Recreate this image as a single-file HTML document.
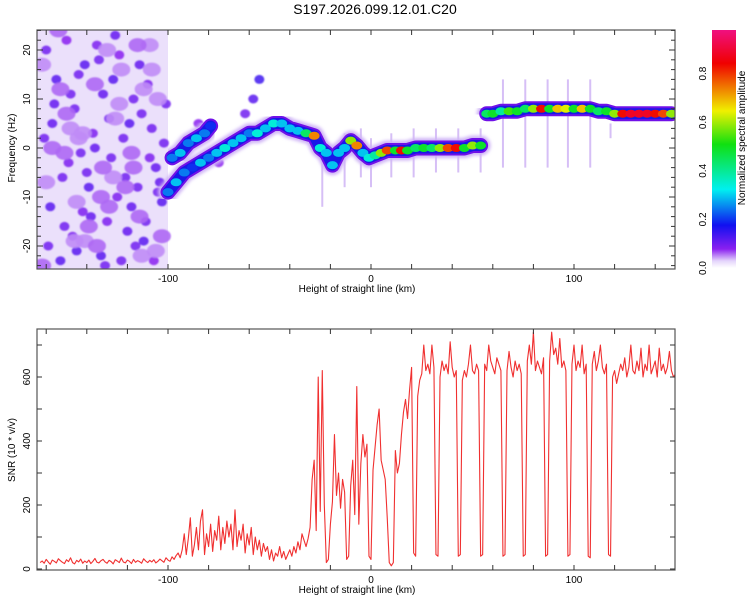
<!DOCTYPE html>
<html><head><meta charset="utf-8">
<style>
body{margin:0;background:#fff;}
svg text{font-family:"Liberation Sans",sans-serif;fill:#000;}
</style></head>
<body>
<svg id="chart" width="750" height="600" viewBox="0 0 750 600">
<defs>
<linearGradient id="cmap" x1="0" y1="1" x2="0" y2="0">
<stop offset="0" stop-color="#ffffff"/>
<stop offset="0.03" stop-color="#e4d4fb"/>
<stop offset="0.08" stop-color="#8a20f0"/>
<stop offset="0.18" stop-color="#1010f0"/>
<stop offset="0.33" stop-color="#00f0f0"/>
<stop offset="0.52" stop-color="#10e010"/>
<stop offset="0.66" stop-color="#f0f000"/>
<stop offset="0.86" stop-color="#f00000"/>
<stop offset="1" stop-color="#f01080"/>
</linearGradient>
<filter id="blur1"><feGaussianBlur stdDeviation="1.5"/></filter>
<filter id="blur2"><feGaussianBlur stdDeviation="0.8"/></filter>
<clipPath id="clipTop"><rect x="37" y="30" width="638" height="239"/></clipPath>
<clipPath id="clipBot"><rect x="37" y="329" width="638" height="241"/></clipPath>
</defs>
<text x="375" y="14" font-size="14" text-anchor="middle">S197.2026.099.12.01.C20</text>
<g id="topPanel"></g>
<g id="botPanel"></g>
<g id="cbar"></g>
</svg>
<script>
// ---- data ----
const xTickLabels = [-100, 0, 100];
const fTickLabels = [-20, -10, 0, 10, 20];
const snrTickLabels = [0, 200, 400, 600];
const cbarTickLabels = [0.0, 0.2, 0.4, 0.6, 0.8];

const ridgeAX = [-100,-96,-92,-88,-84,-80,-76,-72,-68,-64,-60,-56,-52,-48,-44,-40,-36,-32,-28,-25,-22,-19,-16,-13,-10,-7,-4,-1,2,5,8,12,15,18,22,26,30,34,38,42,46,50,54];
const ridgeAF = [-9,-7,-5,-4,-3,-2,-1,0,1,2,3,3,4,5,5,4,3.5,3,2.5,0,-1,-3.5,-1,0,1.5,0.5,-1,-2,-1.5,-1,-0.5,-0.5,-0.5,-0.5,0,0,0,0,0,0,0,0.5,0.5];
const ridgeAA = [0.25,0.3,0.25,0.2,0.3,0.25,0.3,0.35,0.3,0.3,0.25,0.35,0.3,0.35,0.3,0.3,0.3,0.45,0.75,0.35,0.3,0.3,0.3,0.3,0.6,0.75,0.3,0.35,0.4,0.6,0.8,0.5,0.85,0.5,0.45,0.5,0.45,0.6,0.8,0.85,0.5,0.6,0.5];
const ridgeBX = [-98,-94,-90,-86,-82,-79];
const ridgeBF = [-2,-1,1,2,3,4.5];
const ridgeBA = [0.25,0.3,0.25,0.3,0.25,0.2];
const ridgeCX = [57,60,64,68,72,76,80,84,88,92,96,100,104,108,112,116,120,124,128,132,136,140,144,148];
const ridgeCF = [7,7,7.5,7.5,7.5,8,8,8,8,8,8,8,8,8,7.5,7.5,7,7,7,7,7,7,7,7];
const ridgeCA = [0.45,0.5,0.4,0.55,0.5,0.45,0.6,0.85,0.5,0.7,0.65,0.5,0.7,0.5,0.45,0.5,0.6,0.85,0.9,0.9,0.9,0.85,0.8,0.6];

const noiseX = [-160,-155,-150,-146,-141,-137,-132,-128,-124,-119,-115,-110,-106,-102,-158,-152,-147,-143,-138,-133,-129,-125,-120,-116,-111,-107,-103,-161,-156,-149,-144,-139,-134,-130,-126,-121,-117,-112,-108,-104,-159,-153,-148,-142,-136,-131,-127,-122,-118,-113,-109,-105,-157,-151,-145,-140,-135,-123,-114,-101,-95,-85,-75,-62,-58,-55,
-162,-154,-145,-136,-127,-118,-109,-150,-141,-132,-123,-114,-105,-157,-148,-139,-130,-121,-112,-103,-160,-151,-142,-133,-124,-115,-106,-153,-144,-135,-126,-117,-108,-162,-146,-129,-113];
const noiseF = [20,14,22,8,17,3,11,-2,19,5,-8,13,-4,1,-12,-6,-18,-1,-14,-22,6,-10,-17,-20,-15,-23,-11,2,9,-3,15,-8,18,-15,23,-6,10,-19,4,-7,-20,-23,11,-13,0,-24,14,2,-12,7,-2,-9,5,-16,-21,-5,21,-23,17,9,-1,5,-3,7,10,14,
17,24,-11,13,-6,-1,21,7,-19,-4,16,-14,10,0,4,-16,20,-8,12,-18,-7,-1,3,-10,9,21,-21,12,2,-20,6,-4,16,-24,-19,-12,-22];
const noiseA = [0.1,0.12,0.08,0.1,0.12,0.09,0.11,0.1,0.08,0.12,0.1,0.09,0.11,0.1,0.12,0.1,0.09,0.1,0.11,0.12,0.1,0.09,0.11,0.1,0.1,0.08,0.12,0.1,0.11,0.09,0.1,0.12,0.1,0.09,0.11,0.1,0.1,0.12,0.1,0.11,0.1,0.12,0.1,0.09,0.11,0.1,0.12,0.1,0.11,0.1,0.09,0.1,0.11,0.1,0.12,0.1,0.09,0.1,0.11,0.1,0.1,0.08,0.08,0.1,0.12,0.14,
0.05,0.06,0.05,0.06,0.05,0.06,0.05,0.06,0.05,0.06,0.05,0.06,0.05,0.06,0.05,0.06,0.05,0.06,0.05,0.06,0.05,0.06,0.05,0.06,0.05,0.06,0.05,0.06,0.05,0.06,0.05,0.06,0.05,0.06,0.05,0.06,0.05];

const stripeX = [-24,-13,-5,0,10,21,32,43,54,65,76,87,97,108,118];
const stripeTop = [2,3,4,2,3,4,4,4,4,14,14,14,14,14,5];
const stripeBot = [-12,-8,-6,-8,-6,-6,-5,-5,-5,-4,-4,-4,-4,-4,2];

const snrStart = -163;
const snr = [
20,25,18,30,22,15,28,24,19,32,26,21,17,29,23,35,20,16,27,22,
31,18,25,20,28,17,24,33,21,19,26,30,22,18,27,23,16,29,25,20,
34,22,19,28,24,17,30,21,26,23,18,32,25,20,27,22,29,19,24,31,
26,21,35,28,24,38,30,42,
50,35,60,110,45,95,160,40,75,130,60,150,185,45,110,70,140,55,120,90,
165,60,130,80,150,100,140,60,185,70,120,90,140,50,110,75,130,45,100,60,
90,40,80,55,70,
30,60,25,50,40,70,35,55,30,45,60,40,70,50,85,60,110,90,70,95,
130,280,340,120,600,180,620,200,20,30,140,210,420,230,300,190,280,240,30,40,
260,340,170,570,140,330,420,350,390,40,30,310,380,450,500,340,310,280,160,20,
10,20,370,300,330,420,490,530,470,560,630,50,40,
540,590,610,700,620,640,610,700,630,45,40,600,650,620,640,610,710,630,600,620,
40,45,590,620,600,640,700,620,610,640,620,40,45,640,620,700,650,630,610,660,
640,620,40,45,620,680,630,600,650,620,640,610,40,45,650,700,640,740,620,650,
630,610,660,40,45,650,740,670,690,640,720,630,650,620,40,45,640,700,620,650,
630,700,610,640,40,35,640,680,620,650,700,630,610,640,45,40,600,620,580,610,
640,620,660,600,630,700,620,610,650,620,690,600,640,620,700,610,630,650,600,690,
620,640,610,630,680,620,600,610];

// ---- axes ----
const NS='http://www.w3.org/2000/svg';
const X0=37, X1=675;
const xScale = km => 371 + (km)*2.03;
const fScale = f => 148 - f*4.9;
const sScale = v => 569 - v*0.32;
const cScale = a => 268 - a*243;
function el(tag, attrs, parent){const e=document.createElementNS(NS,tag);for(const k in attrs)e.setAttribute(k,attrs[k]);parent.appendChild(e);return e;}
function color(a){
  const stops=[[0,[255,255,255]],[0.03,[228,212,251]],[0.08,[138,32,240]],[0.18,[16,16,240]],[0.33,[0,240,240]],[0.52,[16,224,16]],[0.66,[240,240,0]],[0.86,[240,0,0]],[1,[240,16,128]]];
  for(let i=1;i<stops.length;i++){if(a<=stops[i][0]){const t=(a-stops[i-1][0])/(stops[i][0]-stops[i-1][0]);const c=stops[i-1][1].map((v,j)=>Math.round(v+(stops[i][1][j]-v)*t));return 'rgb('+c.join(',')+')';}}
  return 'rgb(240,16,128)';
}

// ---- top panel ----
const topPanel=document.getElementById('topPanel');
const tg=el('g',{'clip-path':'url(#clipTop)'},topPanel);
const haze=el('rect',{x:X0,y:30,width:xScale(-100)-X0,height:240,fill:'#ebe0fb'},tg);


const ng=el('g',{filter:'url(#blur2)'},tg);
noiseX.forEach((x,i)=>{
  const big=noiseA[i]<0.07;
  const c=el('ellipse',{cx:xScale(x),cy:fScale(noiseF[i]),rx:big?9:5,ry:big?7:4.5,fill:color(noiseA[i]),opacity:big?0.9:0.85},ng);
  
  
});
const sg=el('g',{},tg);
stripeX.forEach((x,i)=>{
  const r=el('rect',{x:xScale(x)-1,y:fScale(stripeTop[i]),width:2,height:fScale(stripeBot[i])-fScale(stripeTop[i]),fill:'#c4a4f2',opacity:0.7},sg);
  
  
});
function ridge(xs,fs,as,name){
  const g=el('g',{},tg);
  
  
  const pts=xs.map((x,i)=>xScale(x)+','+fScale(fs[i])).join(' ');
  el('polyline',{points:pts,fill:'none',stroke:'#cfb4f6','stroke-width':20,'stroke-linejoin':'round','stroke-linecap':'round',filter:'url(#blur1)'},g);
  el('polyline',{points:pts,fill:'none',stroke:'#7010e8','stroke-width':15,'stroke-linejoin':'round','stroke-linecap':'round'},g);
  el('polyline',{points:pts,fill:'none',stroke:'#1818e8','stroke-width':11,'stroke-linejoin':'round','stroke-linecap':'round'},g);
  xs.forEach((x,i)=>{
    const c=el('ellipse',{cx:xScale(x),cy:fScale(fs[i]),rx:5.5,ry:4,fill:color(as[i])},g);
    
    
  });
}
ridge(ridgeAX,ridgeAF,ridgeAA,'main-ridge');
ridge(ridgeBX,ridgeBF,ridgeBA,'upper-left-ridge');
ridge(ridgeCX,ridgeCF,ridgeCA,'upper-band-ridge');

function frame(parent,y0,y1,name){
  const r=el('rect',{x:X0,y:y0,width:X1-X0,height:y1-y0,fill:'none',stroke:'#555','stroke-width':1.2},parent);
  
  
  for(let k=-160;k<=150;k+=20){const x=xScale(k);el('line',{x1:x,y1:y1,x2:x,y2:y1-5,stroke:'#333'},parent);el('line',{x1:x,y1:y0,x2:x,y2:y0+5,stroke:'#333'},parent);}
  xTickLabels.forEach(k=>{
    const t=el('text',{x:xScale(k),y:y1+13,'font-size':10,'text-anchor':'middle'},parent);
    t.textContent=k;
    
    
  });
  const xt=el('text',{x:357,y:y1+23,'font-size':10,'text-anchor':'middle'},parent);
  xt.textContent='Height of straight line (km)';
  
  
}
frame(topPanel,30,269,'spectrogram-frame');
for(let f=-24;f<=24;f+=2){const y=fScale(f);const len=(f%10===0)?6:4;el('line',{x1:X0,y1:y,x2:X0+len,y2:y,stroke:'#333'},topPanel);el('line',{x1:X1,y1:y,x2:X1-len,y2:y,stroke:'#333'},topPanel);}
fTickLabels.forEach(f=>{
  const y=fScale(f);
  const t=el('text',{x:0,y:0,'font-size':10,'text-anchor':'middle',transform:'translate(30,'+y+') rotate(-90)'},topPanel);
  t.textContent=f;
  
  
});
const yt=el('text',{x:0,y:0,'font-size':10,'text-anchor':'middle',transform:'translate(15,148) rotate(-90)'},topPanel);
yt.textContent='Frequency (Hz)';



// ---- bottom panel ----
const botPanel=document.getElementById('botPanel');
const bg=el('g',{'clip-path':'url(#clipBot)'},botPanel);
const pts=snr.map((v,i)=>xScale(snrStart+i)+','+sScale(v)).join(' ');
const line=el('polyline',{points:pts,fill:'none',stroke:'#f03030','stroke-width':1.1,'stroke-linejoin':'round'},bg);


frame(botPanel,329,570,'snr-frame');
for(let v=0;v<=700;v+=100){const y=sScale(v);el('line',{x1:X0,y1:y,x2:X0+5,y2:y,stroke:'#333'},botPanel);el('line',{x1:X1,y1:y,x2:X1-5,y2:y,stroke:'#333'},botPanel);}
snrTickLabels.forEach(v=>{
  const t=el('text',{x:0,y:0,'font-size':10,'text-anchor':'middle',transform:'translate(30,'+sScale(v)+') rotate(-90)'},botPanel);
  t.textContent=v;
  
  
});
const st=el('text',{x:0,y:0,'font-size':10,'text-anchor':'middle',transform:'translate(15,450) rotate(-90)'},botPanel);
st.textContent='SNR (10 * v/v)';



// ---- colorbar ----
const cb=document.getElementById('cbar');
const cr=el('rect',{x:712,y:30,width:24,height:238,fill:'url(#cmap)'},cb);


cbarTickLabels.forEach(a=>{
  const t=el('text',{x:0,y:0,'font-size':10,'text-anchor':'middle',transform:'translate(706,'+cScale(a)+') rotate(-90)'},cb);
  t.textContent=a.toFixed(1);
  
  
});
const ct=el('text',{x:0,y:0,'font-size':10,'text-anchor':'middle',transform:'translate(745,138) rotate(-90)'},cb);
ct.textContent='Normalized spectral amplitude';


</script>
</body></html>
